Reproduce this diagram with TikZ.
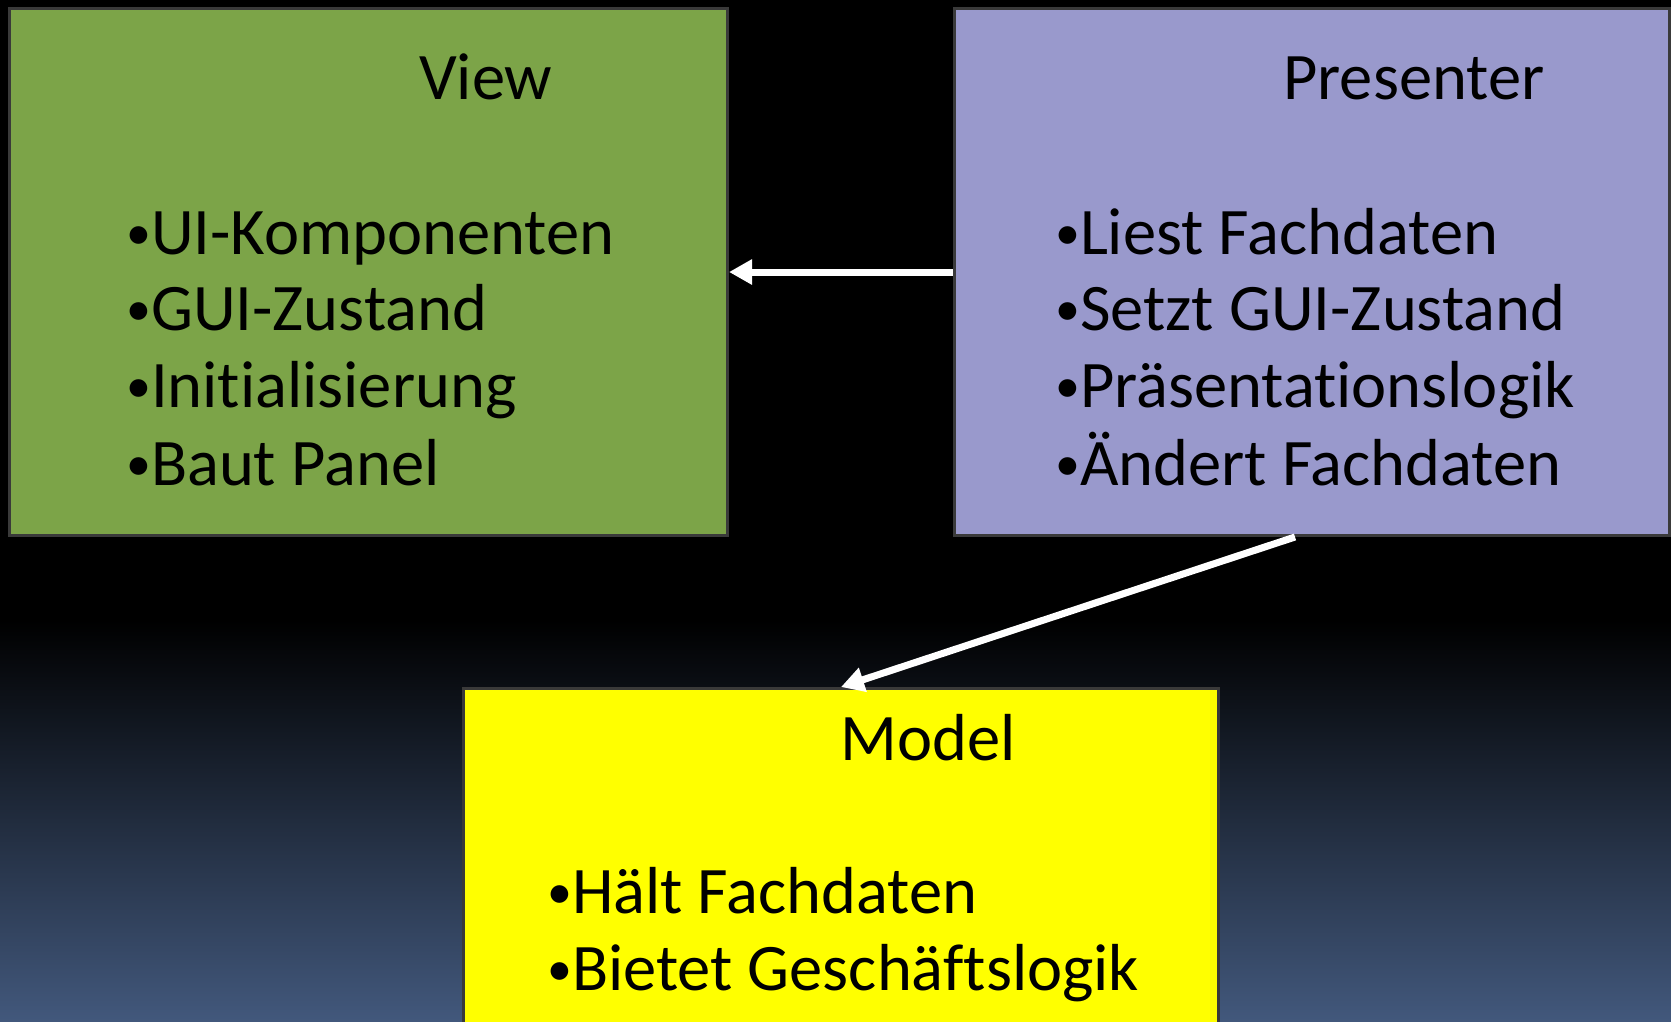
\documentclass[tikz,border=0pt]{standalone}
\usepackage{fontspec}
\setmainfont[RawFeature={-liga}]{Carlito}
\usetikzlibrary{arrows.meta}
\definecolor{viewgreen}{RGB}{124,164,72}
\definecolor{presblue}{RGB}{153,153,204}
\definecolor{modelyellow}{RGB}{255,255,0}
\definecolor{boxborder}{RGB}{58,58,58}
\definecolor{bgblue}{RGB}{66,88,124}
\newcommand{\blt}{\raisebox{5pt}{\scalebox{0.75}{•}}}
\tikzset{
  box/.style={draw=boxborder, line width=3pt, inner sep=0pt, anchor=north west},
  txt/.style={anchor=base west, inner sep=0pt, font=\fontsize{66.5}{77}\selectfont, text=black},
  conn/.style={draw=white, line width=7pt, -{Triangle[length=23pt,width=24pt]}}
}
\begin{document}
\begin{tikzpicture}[x=1pt,y=-1pt]
\useasboundingbox (0,0) rectangle (1671,1021);
\fill[black] (0,0) rectangle (1671,621);
\shade[top color=black, bottom color=bgblue] (0,620) rectangle (1671,1021);
\clip (0,0) rectangle (1671,1021);
% boxes
\node[box, fill=viewgreen, minimum width=718pt, minimum height=527pt] (view) at (8,7) {};
\node[box, fill=presblue, minimum width=715pt, minimum height=527pt] (presenter) at (953,7) {};
\node[box, fill=modelyellow, minimum width=755pt, minimum height=360pt] (model) at (462,687) {};
% view text
\node[txt] (vt) at (419,99) {View};
\node[txt] (v1) at (126,254) {\blt UI-Komponenten};
\node[txt] (v2) at (126,330) {\blt GUI-Zustand};
\node[txt] (v3) at (126,407) {\blt Initialisierung};
\node[txt] (v4) at (126,485) {\blt Baut Panel};
% presenter text
\node[txt] (pt) at (1283,99) {Presenter};
\node[txt] (p1) at (1055,254) {\blt Liest Fachdaten};
\node[txt] (p2) at (1055,330) {\blt Setzt GUI-Zustand};
\node[txt] (p3) at (1055,407) {\blt Präsentationslogik};
\node[txt] (p4) at (1055,485) {\blt Ändert Fachdaten};
% model text
\node[txt] (mt) at (840,760) {Model};
\node[txt] (m1) at (547,913) {\blt Hält Fachdaten};
\node[txt] (m2) at (547,990) {\blt Bietet Geschäftslogik};
% connectors
\coordinate (pstart) at ([xshift=-17pt]presenter.south);
\draw[conn] (presenter.west) -- (view.east);
\draw[conn] (pstart) -- (model.north);
\end{tikzpicture}
\end{document}
